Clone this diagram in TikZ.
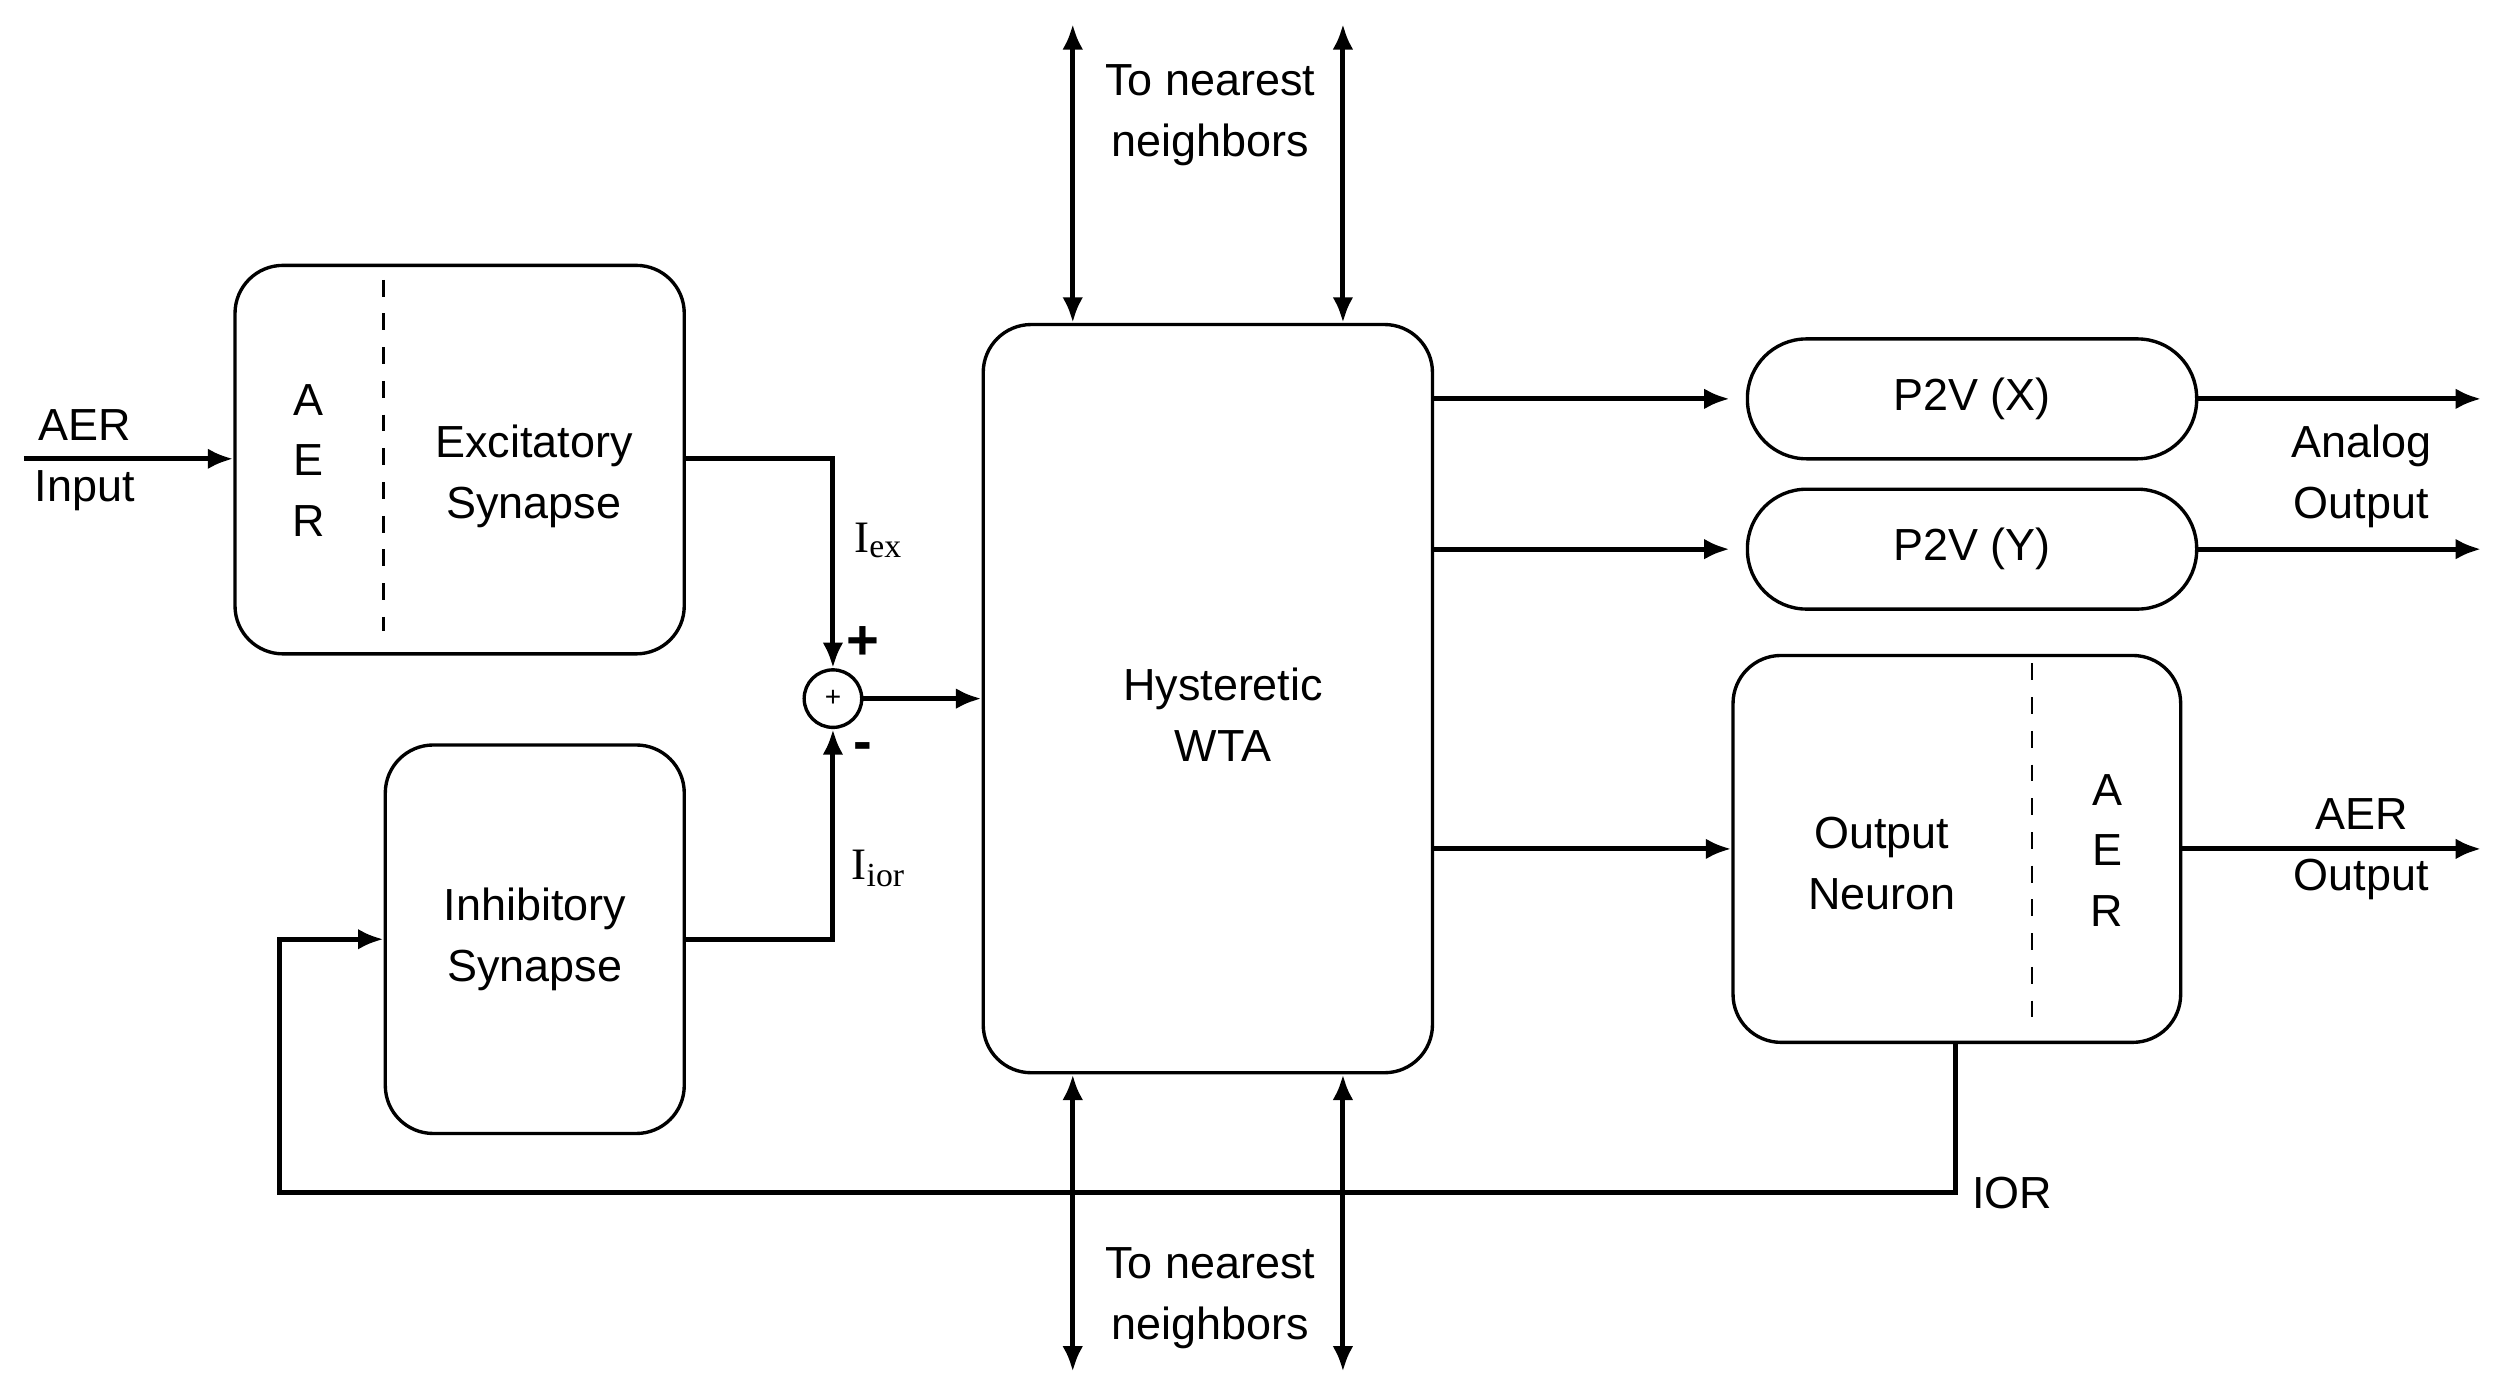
\documentclass[tikz,border=0pt]{standalone}
\usepackage{fontspec}
\setmainfont{Liberation Sans}
\newfontfamily\tnr{Liberation Serif}
\usetikzlibrary{arrows.meta,positioning,calc}
\tikzset{
  blk/.style={draw, line width=0.6pt, rounded corners=0.3cm, align=center, inner sep=0pt},
  pill/.style={draw, line width=0.6pt, rounded corners=0.37cm, align=center, inner sep=0pt, minimum width=2.81cm, minimum height=0.75cm},
  sig/.style={line width=0.9pt, -{Latex[length=0.16cm,width=0.13cm]}},
  bisig/.style={line width=0.9pt, {Latex[length=0.16cm,width=0.13cm]}-{Latex[length=0.16cm,width=0.13cm]}},
  lbl/.style={align=center, inner sep=0pt},
}
\begin{document}
\begin{tikzpicture}[font=\fontsize{8}{10.8}\selectfont]
    \useasboundingbox (0,0) rectangle (15.6,-8.7);
    % blocks
    \node[blk, minimum width=2.81cm, minimum height=2.43cm] (exc) at (2.875,-2.875) {};
    \node[blk, minimum width=1.87cm, minimum height=2.43cm] (inh) at (3.345,-5.875) {Inhibitory\\Synapse};
    \node[blk, minimum width=2.81cm, minimum height=4.68cm] (wta) at (7.555,-4.37) {};
    \node[pill] (px) at (12.335,-2.495) {P2V (X)};
    \node[pill] (py) at (12.335,-3.435) {P2V (Y)};
    \node[blk, minimum width=2.80cm, minimum height=2.42cm] (out) at (12.24,-5.31) {};
    \node[draw, circle, line width=0.6pt, minimum size=0.36cm, inner sep=0pt, font=\fontsize{5}{6}\selectfont] (sum) at (5.21,-4.37) {+};

    % texts inside blocks
    \draw[dashed, line width=0.5pt] (2.40,-1.75) -- (2.40,-3.95);
    \node[lbl] (aer1) at (1.93,-2.88) {A\\E\\R};
    \node[lbl] (exct) at (3.34,-2.98) {Excitatory\\Synapse};
    \node[lbl] (wtat) at (7.65,-4.47) {Hysteretic\\WTA};
    \draw[dashed, line width=0.5pt] (12.71,-4.15) -- (12.71,-6.38);
    \node[lbl] (outt) at (11.77,-5.40) {Output\\Neuron};
    \node[lbl] (aer2) at (13.18,-5.32) {A\\E\\R};

    % input side
    \coordinate (in) at (0.15,-2.87);
    \draw[sig] (in) -- (exc.west |- in);
    \node[lbl] (aerin) at (0.53,-2.88) {AER\\Input};
    \draw[sig] (exc.east |- in) -| (sum.north);
    \draw[sig] (inh.east) -| (sum.south);
    \node[lbl, font=\tnr\fontsize{8}{9}\selectfont] (iex) at (5.50,-3.38) {I\textsubscript{ex}};
    \node[lbl, font=\tnr\fontsize{8}{9}\selectfont] (iior) at (5.50,-5.43) {I\textsubscript{ior}};
    \node[lbl, font=\bfseries\fontsize{10}{10}\selectfont] (plus) at (5.40,-4.02) {+};
    \node[lbl, font=\bfseries\fontsize{10}{10}\selectfont] (minus) at (5.40,-4.70) {-};
    \draw[sig] (sum.east) -- (wta.west |- sum);

    % neighbours
    \coordinate (t1) at (6.71,-0.15);
    \coordinate (t2) at (8.40,-0.15);
    \coordinate (b1) at (6.71,-8.58);
    \coordinate (b2) at (8.40,-8.58);
    \draw[bisig] (t1) -- (t1 |- wta.north);
    \draw[bisig] (t2) -- (t2 |- wta.north);
    \draw[bisig] (wta.south -| b1) -- (b1);
    \draw[bisig] (wta.south -| b2) -- (b2);
    \node[lbl] (nnt) at (7.57,-0.72) {To nearest\\neighbors};
    \node[lbl] (nnb) at (7.57,-8.12) {To nearest\\neighbors};

    % outputs
    \draw[sig] (wta.east |- px) -- ($(px.west)+(-0.1,0)$);
    \draw[sig] (wta.east |- py) -- ($(py.west)+(-0.1,0)$);
    \coordinate (onin) at (10.84,-5.31);
    \draw[sig] (wta.east |- onin) -- (out.west |- onin);
    \coordinate (ox) at (15.52,-2.495);
    \coordinate (oy) at (15.52,-3.435);
    \coordinate (oa) at (15.52,-5.31);
    \draw[sig] (px.east) -- (ox);
    \draw[sig] (py.east) -- (oy);
    \draw[sig] (out.east |- oa) -- (oa);
    \node[lbl] (anat) at (14.77,-2.98) {Analog\\Output};
    \node[lbl] (aerout) at (14.77,-5.31) {AER\\Output};

    % inhibition of return
    \coordinate (ior) at (12.23,-7.46);
    \coordinate (iorl) at (1.75,-7.46);
    \draw[sig] (out.south -| ior) -- (ior) -- (iorl) |- (inh.west);
    \node[lbl, anchor=west] (iort) at (12.33,-7.46) {IOR};
\end{tikzpicture}
\end{document}
